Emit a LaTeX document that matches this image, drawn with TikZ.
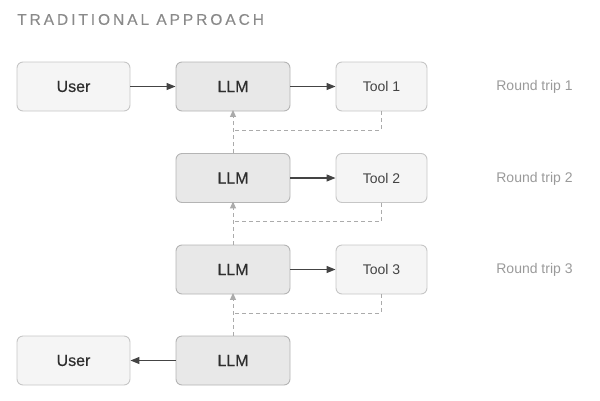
\documentclass[tikz,border=0pt]{standalone}
\usepackage{fontspec}
\setmainfont{Liberation Sans}
\newfontfamily\medfont[FakeBold=0.4]{Liberation Sans}
\newfontfamily\titlefont[LetterSpace=19,FakeBold=0.3]{Liberation Sans}
\usetikzlibrary{arrows.meta}
\definecolor{boxfill}{HTML}{F5F5F5}
\definecolor{boxline}{HTML}{C6C6C6}
\definecolor{llmfill}{HTML}{E8E8E8}
\definecolor{llmline}{HTML}{B4B4B4}
\definecolor{txt}{HTML}{2E2E2E}
\definecolor{solidarrow}{HTML}{444444}
\definecolor{dasharrow}{HTML}{ABABAB}
\definecolor{graytxt}{HTML}{9A9A9A}
\definecolor{titlegray}{HTML}{8A8A8A}
\tikzset{
  userbox/.style={draw=boxline, fill=boxfill, rounded corners=6pt, line width=0.9pt,
    minimum width=113pt, minimum height=49pt, inner sep=0pt, text=txt, font=\medfont\fontsize{16}{18}\selectfont},
  llmbox/.style={draw=llmline, fill=llmfill, rounded corners=6pt, line width=0.9pt,
    minimum width=114pt, minimum height=49pt, inner sep=0pt, text=txt, font=\medfont\fontsize{16}{18}\selectfont},
  toolbox/.style={draw=boxline, fill=boxfill, rounded corners=6pt, line width=0.9pt,
    minimum width=91pt, minimum height=49pt, inner sep=0pt, text=txt!90, font=\fontsize{14}{16}\selectfont},
  triplabel/.style={text=graytxt, font=\fontsize{14}{16}\selectfont, inner sep=0pt},
  solidconn/.style={draw=solidarrow, line width=1.2pt, -{Stealth[length=9pt,width=7pt,inset=0pt]}},
  dashconn/.style={draw=dasharrow, line width=1pt, dash pattern=on 4pt off 3pt},
  dashtip/.style={-{Stealth[length=7pt,width=6pt,inset=0pt]}}
}
\begin{document}
\begin{tikzpicture}[x=1pt,y=-1pt]
\useasboundingbox (0,0) rectangle (600,400);
\node[anchor=west, inner sep=0pt, text=titlegray, font=\titlefont\fontsize{15.5}{17}\selectfont] (title) at (17,19.5) {TRADITIONAL APPROACH};

\node[userbox] (user1) at (73.5,86.5) {User};
\node[llmbox] (llm1) at (233,86.5) {LLM};
\node[toolbox] (tool1) at (381.5,86.5) {Tool 1};
\node[triplabel] (rt1) at (534.5,87) {Round trip 1};

\node[llmbox] (llm2) at (233,178) {LLM};
\node[toolbox] (tool2) at (381.5,178) {Tool 2};
\node[triplabel] (rt2) at (534.5,179) {Round trip 2};

\node[llmbox] (llm3) at (233,269.5) {LLM};
\node[toolbox] (tool3) at (381.5,269.5) {Tool 3};
\node[triplabel] (rt3) at (534.5,270) {Round trip 3};

\node[userbox] (user2) at (73.5,360.5) {User};
\node[llmbox] (llm4) at (233,360.5) {LLM};

\draw[solidconn] (user1) -- (llm1);
\draw[solidconn] (llm1) -- (tool1);
\draw[solidconn] (llm2) -- (tool2);
\draw[solidconn] (llm3) -- (tool3);
\draw[solidconn] (llm4) -- (user2);

\coordinate (j1) at (233,130);
\coordinate (j2) at (233,221.5);
\coordinate (j3) at (233,313);

\draw[dashconn] (tool1.south) |- (j1);
\draw[dashconn] (tool2.south) |- (j2);
\draw[dashconn] (tool3.south) |- (j3);
\draw[dashconn, dashtip] (llm2.north) -- ([yshift=1.5pt]llm1.south);
\draw[dashconn, dashtip] (llm3.north) -- ([yshift=1.5pt]llm2.south);
\draw[dashconn, dashtip] (llm4.north) -- ([yshift=1.5pt]llm3.south);
\end{tikzpicture}
\end{document}
